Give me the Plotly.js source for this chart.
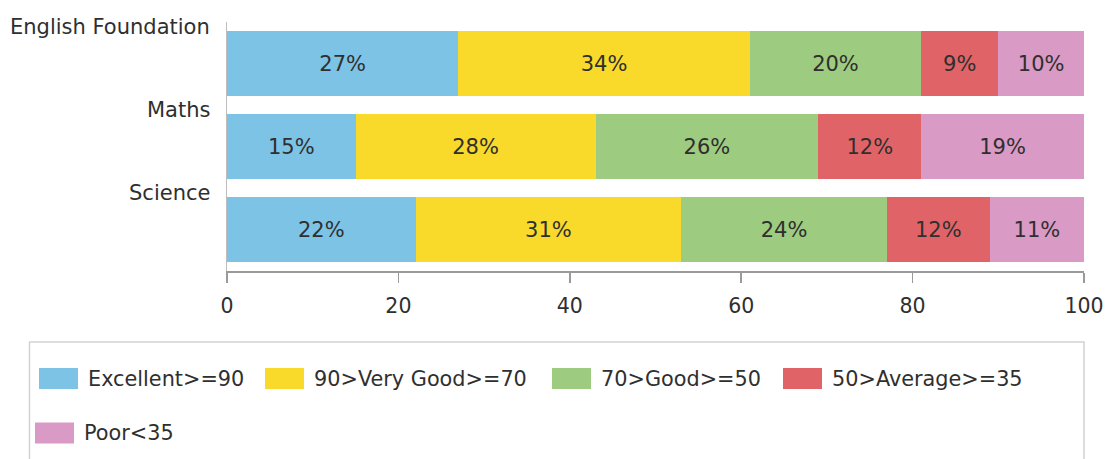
<!DOCTYPE html>
<html><head><meta charset="utf-8">
<script src="https://cdn.plot.ly/plotly-3.0.1.min.js"></script>
<style>html,body{margin:0;padding:0;background:#fff}#chart{width:1106px;height:459px}</style>
</head><body><div id="chart"></div>
<script>
// ---- data ----
const categories = ["English Foundation", "Maths", "Science"];
const seriesNames = ["Excellent>=90", "90>Very Good>=70", "70>Good>=50", "50>Average>=35", "Poor<35"];
const excellent = [27, 15, 22];
const veryGood  = [34, 28, 31];
const good      = [20, 26, 24];
const average   = [9, 12, 12];
const poor      = [10, 19, 11];
const xTicks = [0, 20, 40, 60, 80, 100];

// ---- styles / layout ----
const seriesValues = [excellent, veryGood, good, average, poor];
const COLORS = ["#7DC3E5", "#F9DA2B", "#9DCB80", "#E06467", "#D99AC5"];
const FONT = "DejaVu Sans, Verdana, sans-serif";
const TXT = "#2f2f2f";
const W = 1106, H = 459, L = 227, R = 22, T = 22, B = 188;
const pw = W - L - R, ph = H - T - B;
const px2x = p => (p - L) / pw;
const py2y = p => (H - B - p) / ph;

// legend item pixel placement (layout only)
const LEG_POS = [[39, 378.5], [265, 378.5], [552, 378.5], [783, 378.5], [35, 433]];
const SW_W = 39, SW_H = 21, SW_GAP = 8;

const traces = seriesNames.map((n, i) => ({
  type: 'bar', orientation: 'h', name: n,
  y: categories, x: seriesValues[i],
  text: seriesValues[i].map(v => v + '%'),
  textposition: 'inside', insidetextanchor: 'middle', textangle: 0,
  constraintext: 'none',
  textfont: {family: FONT, size: 21, color: TXT},
  marker: {color: COLORS[i], line: {width: 0}},
  hoverinfo: 'none', showlegend: false
}));

const shapes = [{
  type: 'rect', xref: 'paper', yref: 'paper',
  x0: px2x(29.5), x1: px2x(1084), y0: py2y(475), y1: py2y(342),
  line: {color: '#d2d2d2', width: 1.5}, fillcolor: 'rgba(0,0,0,0)', layer: 'below'
}];
const annotations = [];

seriesNames.forEach((n, i) => {
  const [sx, cy] = LEG_POS[i];
  shapes.push({
    type: 'rect', xref: 'paper', yref: 'paper',
    x0: px2x(sx), x1: px2x(sx + SW_W), y0: py2y(cy + SW_H / 2), y1: py2y(cy - SW_H / 2),
    fillcolor: COLORS[i], line: {width: 0}
  });
  annotations.push({
    xref: 'paper', yref: 'paper', x: px2x(sx + SW_W + SW_GAP), y: py2y(cy),
    xanchor: 'left', yanchor: 'middle', showarrow: false, text: n,
    font: {family: FONT, size: 20.8, color: TXT}
  });
});

categories.forEach(c => {
  annotations.push({
    xref: 'paper', yref: 'y', x: 0, y: c, xanchor: 'right', yanchor: 'middle',
    xshift: -15, yshift: 37, showarrow: false, text: c,
    font: {family: FONT, size: 21, color: TXT}
  });
});

const layout = {
  width: W, height: H,
  margin: {l: L, r: R, t: T, b: B, pad: 0},
  paper_bgcolor: '#ffffff', plot_bgcolor: '#ffffff',
  barmode: 'stack', bargap: 0.21,
  showlegend: false,
  font: {family: FONT, size: 20, color: TXT},
  xaxis: {
    range: [0, 100], tickmode: 'array', tickvals: xTicks, ticktext: xTicks.map(String),
    ticks: 'outside', ticklen: 10, tickwidth: 1.5, tickcolor: '#9a9a9a',
    showline: true, linecolor: '#9a9a9a', linewidth: 1.5,
    showgrid: false, zeroline: false, ticklabelstandoff: 6,
    tickfont: {family: FONT, size: 20.5, color: TXT}, fixedrange: true
  },
  yaxis: {
    type: 'category', categoryorder: 'array', categoryarray: categories,
    range: [2.5, -0.5], showticklabels: false, ticks: '',
    showline: true, linecolor: '#bdbdbd', linewidth: 1,
    showgrid: false, zeroline: false, fixedrange: true
  },
  shapes: shapes, annotations: annotations
};

Plotly.newPlot('chart', traces, layout, {staticPlot: true, displayModeBar: false});
</script>
</body></html>
